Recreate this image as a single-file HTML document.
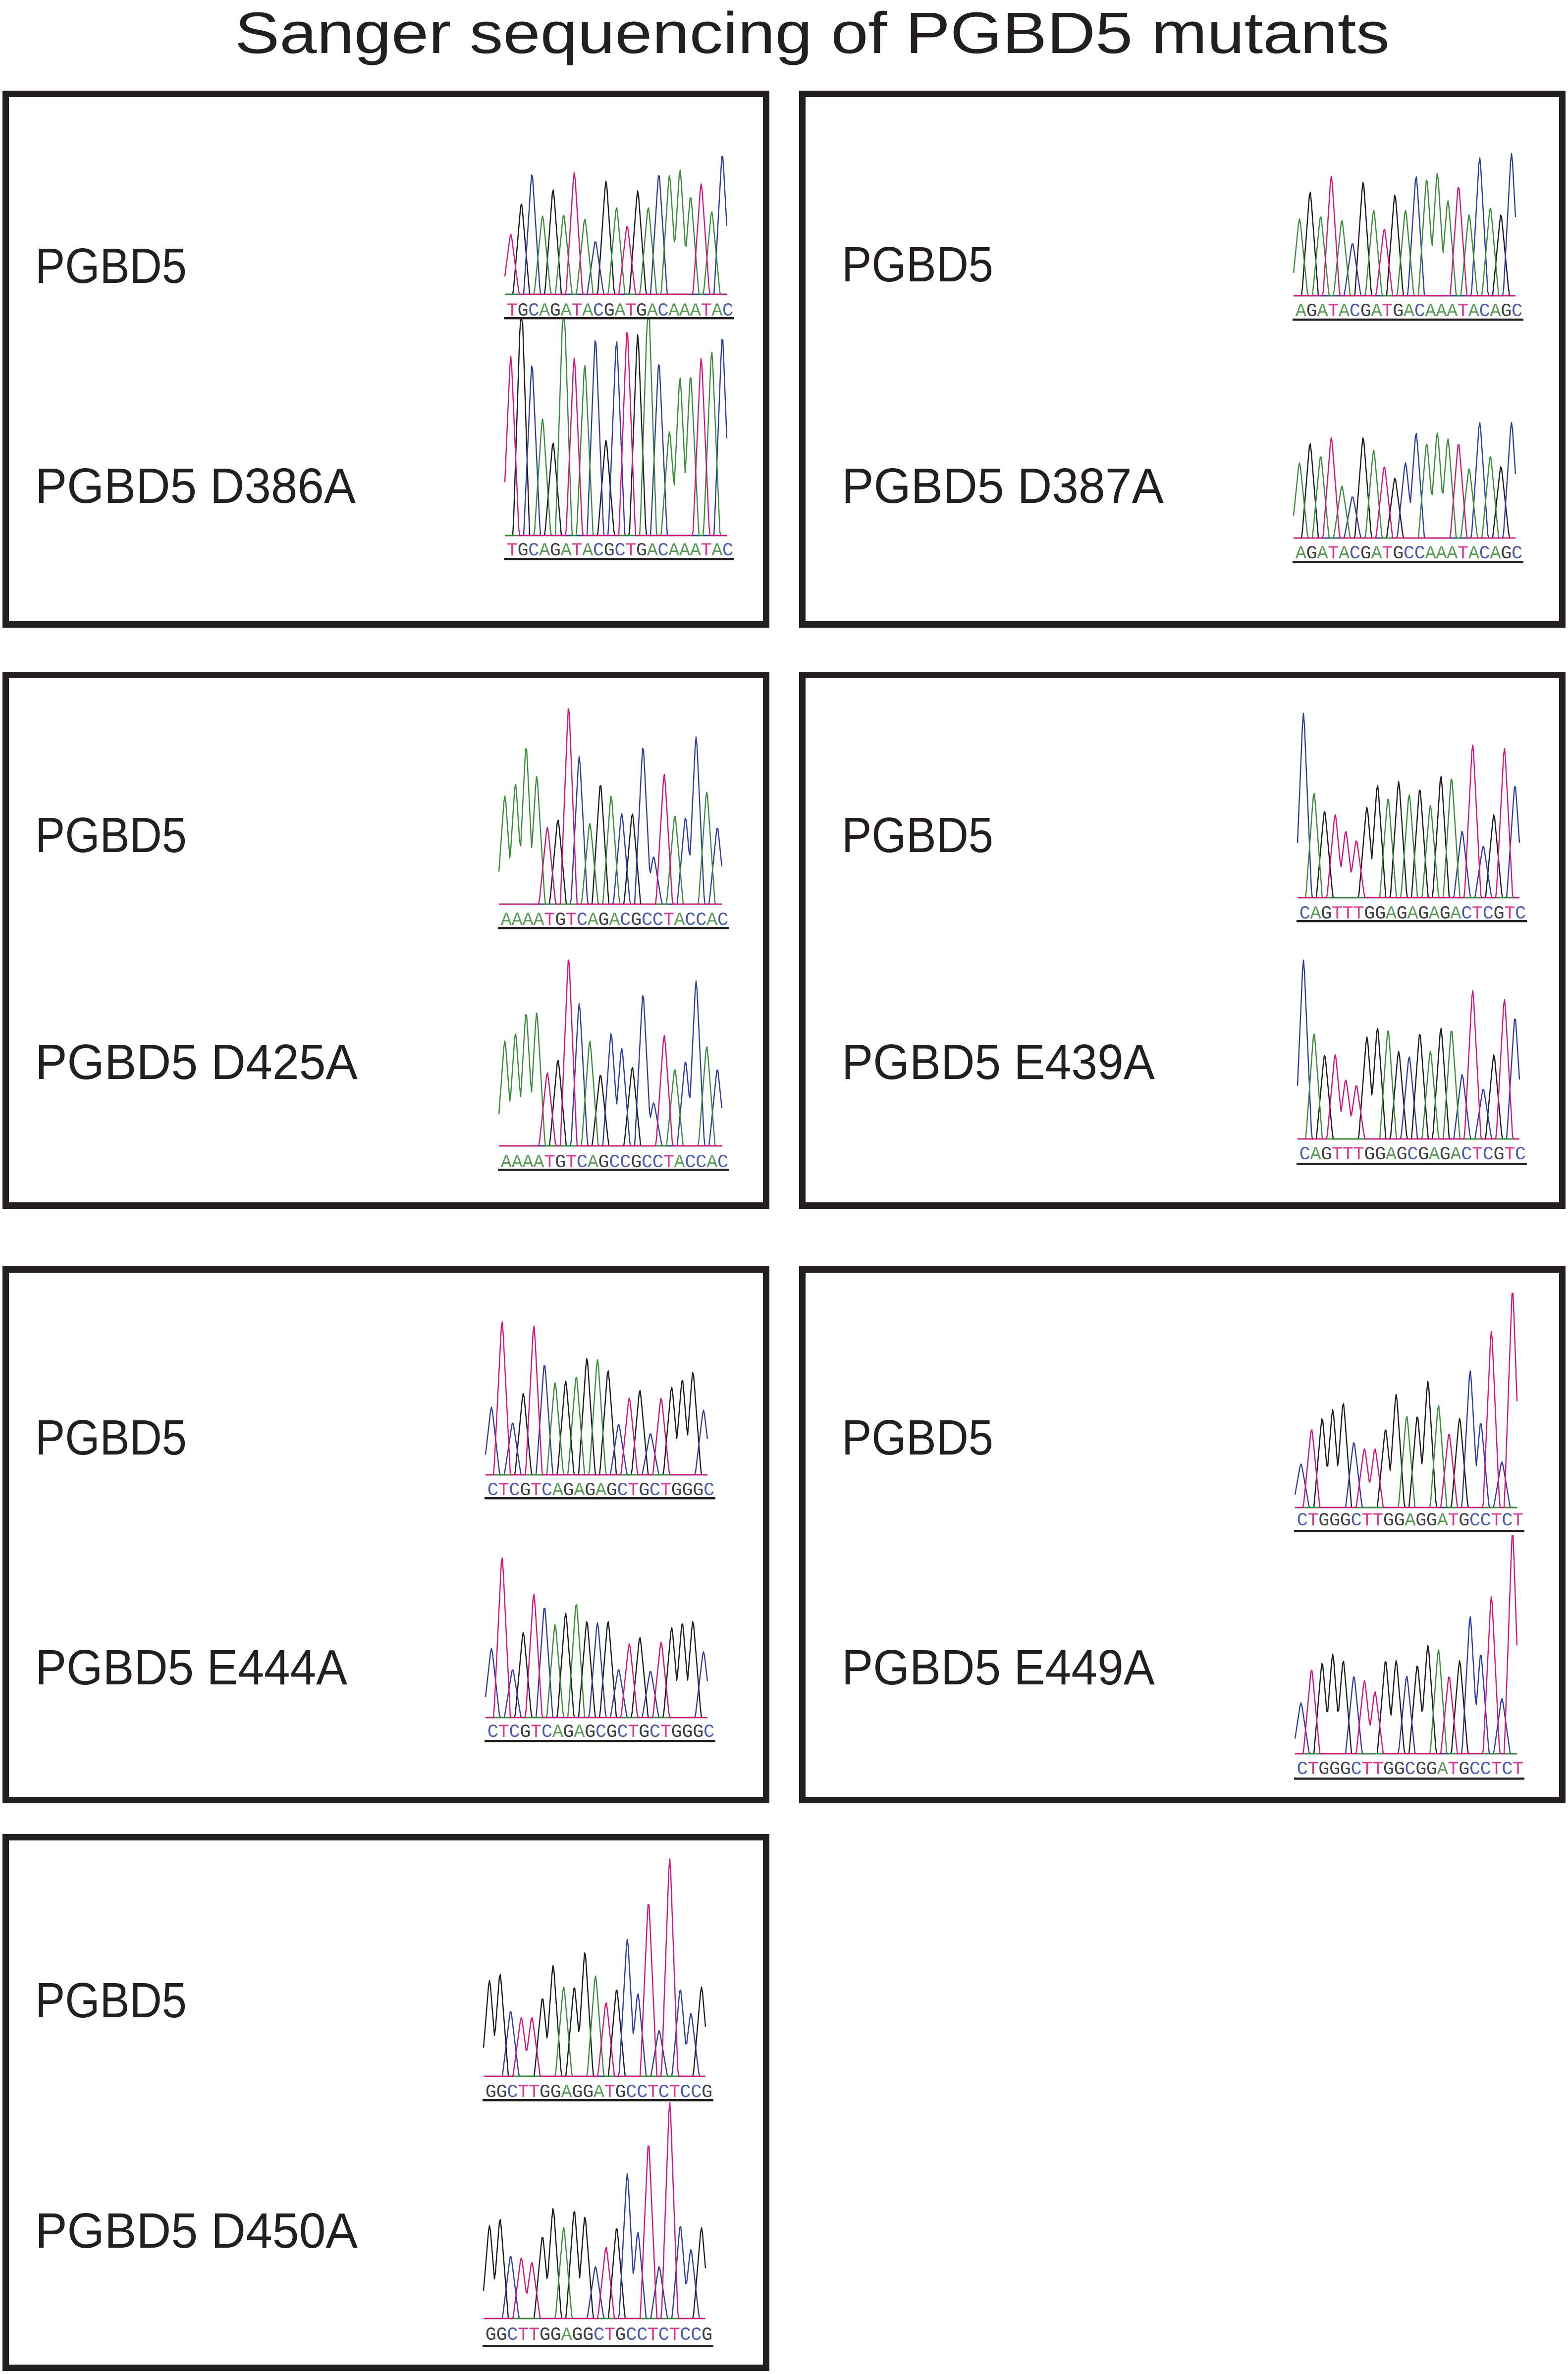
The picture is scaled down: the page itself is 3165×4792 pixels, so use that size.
<!DOCTYPE html>
<html><head><meta charset="utf-8"><style>
html,body{margin:0;padding:0;background:#fff;}
svg{display:block;}
</style></head><body>
<svg id="fig" xmlns="http://www.w3.org/2000/svg" width="3165" height="4792" viewBox="0 0 3165 4792">
<rect x="0" y="0" width="3165" height="4792" fill="#fff"/>
<text x="474" y="107" font-family="Liberation Sans, sans-serif" font-size="118" fill="#231f20" textLength="2331" lengthAdjust="spacingAndGlyphs">Sanger sequencing of PGBD5 mutants</text>
<g id="boxes" fill="none" stroke="#231f20" stroke-width="13">
<rect x="11.5" y="189.5" width="1535" height="1071"/>
<rect x="1619.5" y="189.5" width="1534" height="1071"/>
<rect x="11.5" y="1362.5" width="1535" height="1071"/>
<rect x="1619.5" y="1362.5" width="1534" height="1071"/>
<rect x="11.5" y="2562.5" width="1535" height="1071"/>
<rect x="1619.5" y="2562.5" width="1534" height="1071"/>
<rect x="11.5" y="3708.5" width="1535" height="1071"/>
</g>
<g font-family="Liberation Sans, sans-serif" font-size="100" fill="#231f20">
<text x="71" y="571" textLength="306" lengthAdjust="spacingAndGlyphs">PGBD5</text>
<text x="71" y="1015" textLength="647" lengthAdjust="spacingAndGlyphs">PGBD5 D386A</text>
<text x="1699" y="568" textLength="306" lengthAdjust="spacingAndGlyphs">PGBD5</text>
<text x="1699" y="1015" textLength="650" lengthAdjust="spacingAndGlyphs">PGBD5 D387A</text>
<text x="71" y="1720" textLength="306" lengthAdjust="spacingAndGlyphs">PGBD5</text>
<text x="71" y="2178" textLength="651" lengthAdjust="spacingAndGlyphs">PGBD5 D425A</text>
<text x="1699" y="1720" textLength="306" lengthAdjust="spacingAndGlyphs">PGBD5</text>
<text x="1699" y="2178" textLength="632" lengthAdjust="spacingAndGlyphs">PGBD5 E439A</text>
<text x="71" y="2936" textLength="306" lengthAdjust="spacingAndGlyphs">PGBD5</text>
<text x="71" y="3400" textLength="630" lengthAdjust="spacingAndGlyphs">PGBD5 E444A</text>
<text x="1699" y="2936" textLength="306" lengthAdjust="spacingAndGlyphs">PGBD5</text>
<text x="1699" y="3400" textLength="632" lengthAdjust="spacingAndGlyphs">PGBD5 E449A</text>
<text x="71" y="4072" textLength="306" lengthAdjust="spacingAndGlyphs">PGBD5</text>
<text x="71" y="4537" textLength="651" lengthAdjust="spacingAndGlyphs">PGBD5 D450A</text>
</g>
<g id="chroms"></g>
</svg>
<script>
// Sequences (base calls)
const seqA1 = "TGCAGATACGATGACAAATAC";
const seqA2 = "TGCAGATACGCTGACAAATAC";
const seqB1 = "AGATACGATGACAAATACAGC";
const seqB2 = "AGATACGATGCCAAATACAGC";
const seqC1 = "AAAATGTCAGACGCCTACCAC";
const seqC2 = "AAAATGTCAGCCGCCTACCAC";
const seqD1 = "CAGTTTGGAGAGAGACTCGTC";
const seqD2 = "CAGTTTGGAGCGAGACTCGTC";
const seqE1 = "CTCGTCAGAGAGCTGCTGGGC";
const seqE2 = "CTCGTCAGAGCGCTGCTGGGC";
const seqF1 = "CTGGGCTTGGAGGATGCCTCT";
const seqF2 = "CTGGGCTTGGCGGATGCCTCT";
const seqG1 = "GGCTTGGAGGATGCCTCTCCG";
const seqG2 = "GGCTTGGAGGCTGCCTCTCCG";
// Peak heights (relative)
const hA1 = [.43,.65,.86,.56,.75,.57,.87,.54,.38,.81,.62,.49,.74,.62,.86,.85,.89,.70,.79,.59,1];
const hA2 = [.83,1.1,.79,.54,.43,1.1,.82,.79,.91,.44,.90,.95,.93,1.1,.80,.48,.73,.74,.82,.85,.92];
const hB1 = [.54,.73,.56,.84,.53,.37,.80,.60,.47,.71,.60,.84,.82,.86,.67,.77,.57,.97,.62,.57,1];
const hB2 = [.65,.82,.71,.87,.45,.36,.87,.76,.62,.52,.65,.91,.82,.91,.86,.82,.60,1,.71,.62,1];
const hC1 = [.55,.61,.80,.65,.39,.43,1,.75,.41,.61,.55,.46,.46,.80,.24,.66,.45,.44,.85,.57,.39];
const hC2 = [.56,.60,.71,.71,.39,.46,1,.76,.56,.38,.60,.52,.42,.81,.23,.59,.41,.45,.88,.53,.41];
const hD1 = [1,.57,.47,.45,.36,.31,.49,.61,.54,.63,.56,.59,.50,.66,.65,.36,.83,.28,.45,.81,.61];
const hD2 = [1,.59,.47,.47,.33,.30,.57,.62,.61,.49,.46,.59,.49,.62,.61,.36,.83,.28,.47,.78,.68];
const hE1 = [.44,1,.34,.53,.97,.72,.60,.61,.64,.76,.75,.68,.33,.50,.55,.27,.50,.57,.62,.67,.42];
const hE2 = [.43,1,.30,.53,.77,.69,.58,.65,.71,.60,.59,.60,.30,.46,.50,.29,.47,.56,.59,.60,.41];
const hF1 = [.20,.36,.41,.45,.48,.30,.27,.27,.36,.52,.42,.42,.58,.47,.34,.41,.63,.39,.81,.21,1];
const hF2 = [.23,.38,.41,.45,.42,.35,.33,.28,.42,.42,.35,.40,.49,.47,.35,.42,.62,.45,.71,.25,1];
const hG1 = [.44,.47,.30,.27,.27,.36,.51,.41,.41,.57,.46,.34,.40,.63,.38,.80,.21,1,.40,.29,.41];
const hG2 = [.43,.46,.29,.28,.26,.38,.51,.42,.50,.47,.24,.33,.42,.67,.40,.81,.24,1,.43,.32,.42];

const COLORS = {A:"#3b8b3b", C:"#2e3d9e", G:"#1b1b1b", T:"#d3157d"};
const NS = "http://www.w3.org/2000/svg";
const root = document.getElementById("chroms");

function drawChrom(name, seq, h, g) {
  const grp = document.createElementNS(NS, "g");
  
  
  root.appendChild(grp);
  const n = seq.length;
  const p0 = g.x0 + 12, p1 = g.x1 - 9;
  const sp = (p1 - p0) / (n - 1);
  const xOf = i => p0 + i * sp;
  const yOf = v => g.base - v * (g.base - g.top);
  const hw = 0.78 * sp;
  ["G","C","A","T"].forEach(ch => {
    let pts = [];
    for (let x = g.x0; x <= g.x1; x += 2) {
      let v = 0;
      for (let i = 0; i < n; i++) {
        if (seq[i] !== ch) continue;
        const d = Math.abs(x - xOf(i)) / hw;
        if (d >= 1) continue;
        const s = d < 0.12 ? 1 - 0.5 * d * d / 0.12 : (1 - d) / (1 - 0.06);
        v = Math.max(v, h[i] * Math.min(1, s));
      }
      let y = yOf(v);
      if (y < g.clip) y = g.clip;
      pts.push(x.toFixed(1) + "," + y.toFixed(1));
    }
    const pl = document.createElementNS(NS, "polyline");
    
    
    pl.setAttribute("points", pts.join(" "));
    pl.setAttribute("fill", "none");
    pl.setAttribute("stroke", COLORS[ch]);
    pl.setAttribute("stroke-width", "2.4");
    pl.setAttribute("stroke-linejoin", "round");
    grp.appendChild(pl);
  });
  const tx0 = g.x0 + 4, tx1 = g.x1 + 13;
  const w = (tx1 - tx0) / n;
  for (let i = 0; i < n; i++) {
    const t = document.createElementNS(NS, "text");
    
    
    t.setAttribute("x", (tx0 + (i + 0.5) * w).toFixed(1));
    t.setAttribute("y", (g.textY + 13).toFixed(1));
    t.setAttribute("text-anchor", "middle");
    t.setAttribute("font-family", "Liberation Mono, monospace");
    t.setAttribute("font-size", "37");
    t.setAttribute("fill", COLORS[seq[i]]);
    t.setAttribute("opacity", "0.85");
    t.textContent = seq[i];
    grp.appendChild(t);
  }
  const ln = document.createElementNS(NS, "rect");
  
  
  ln.setAttribute("x", g.x0 - 2);
  ln.setAttribute("y", g.lineY - 2);
  ln.setAttribute("width", tx1 - g.x0 + 4);
  ln.setAttribute("height", 4.5);
  ln.setAttribute("fill", "#231f20");
  grp.appendChild(ln);
}

drawChrom("chrom-wt-a", seqA1, hA1, {x0:1019,x1:1467,base:594,top:312,textY:624,lineY:642,clip:290});
drawChrom("chrom-d386a", seqA2, hA2, {x0:1019,x1:1467,base:1081,top:645,textY:1108,lineY:1128,clip:645});
drawChrom("chrom-wt-b", seqB1, hB1, {x0:2611,x1:3060,base:597,top:310,textY:625,lineY:645,clip:290});
drawChrom("chrom-d387a", seqB2, hB2, {x0:2611,x1:3060,base:1086,top:853,textY:1114,lineY:1134,clip:660});
drawChrom("chrom-wt-c", seqC1, hC1, {x0:1007,x1:1457,base:1825,top:1428,textY:1854,lineY:1873,clip:1400});
drawChrom("chrom-d425a", seqC2, hC2, {x0:1007,x1:1457,base:2313,top:1935,textY:2343,lineY:2361,clip:1880});
drawChrom("chrom-wt-d", seqD1, hD1, {x0:2619,x1:3067,base:1812,top:1440,textY:1841,lineY:1859,clip:1400});
drawChrom("chrom-e439a", seqD2, hD2, {x0:2619,x1:3067,base:2299,top:1938,textY:2327,lineY:2349,clip:1880});
drawChrom("chrom-wt-e", seqE1, hE1, {x0:980,x1:1429,base:2977,top:2667,textY:3005,lineY:3024,clip:2600});
drawChrom("chrom-e444a", seqE2, hE2, {x0:980,x1:1429,base:3467,top:3143,textY:3493,lineY:3514,clip:3030});
drawChrom("chrom-wt-f", seqF1, hF1, {x0:2614,x1:3062,base:3043,top:2604,textY:3066,lineY:3090,clip:2590});
drawChrom("chrom-e449a", seqF2, hF2, {x0:2614,x1:3062,base:3540,top:3093,textY:3568,lineY:3590,clip:3093});
drawChrom("chrom-wt-g", seqG1, hG1, {x0:976,x1:1425,base:4191,top:3752,textY:4220,lineY:4239,clip:3740});
drawChrom("chrom-d450a", seqG2, hG2, {x0:976,x1:1425,base:4680,top:4244,textY:4710,lineY:4735,clip:4244});
</script>
</body></html>
